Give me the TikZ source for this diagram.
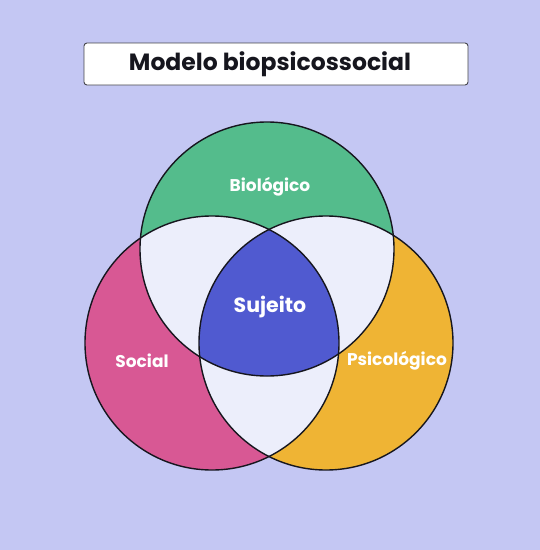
\documentclass[tikz,border=0pt]{standalone}
\usepackage{fontspec}
\setmainfont{Poppins}
\usetikzlibrary{positioning}
\definecolor{bgblue}{RGB}{196,199,243}
\definecolor{biogreen}{RGB}{84,188,140}
\definecolor{socpink}{RGB}{216,88,148}
\definecolor{psiyellow}{RGB}{239,180,52}
\definecolor{sujblue}{RGB}{80,90,208}
\definecolor{pale}{RGB}{236,238,251}
\definecolor{outline}{RGB}{22,22,30}

\begin{document}
\begin{tikzpicture}[x=1pt,y=-1pt,
    label/.style={text=white,font=\bfseries\fontsize{17}{20}\selectfont},
    ring/.style={draw=outline,line width=1.4pt}]
    % Background
    \fill[bgblue] (0,0) rectangle (540,550);
    \useasboundingbox (0,0) rectangle (540,550);
    % Title
    \node[draw=outline!80,fill=white,rounded corners=3pt,line width=0.9pt,
          minimum width=384pt,minimum height=42pt] (titlebox) at (276,64) {};
    \node[font=\bfseries\fontsize{23.5}{28}\selectfont,text=outline] (title) at (270,64) {Modelo biopsicossocial};
    % Circle centres
    \coordinate (bio) at (267,249);
    \coordinate (soc) at (212,343);
    \coordinate (psi) at (326,343);
    \def\rad{127pt}
    % Single areas
    \fill[biogreen] (bio) circle[radius=\rad];
    \fill[socpink] (soc) circle[radius=\rad];
    \fill[psiyellow] (psi) circle[radius=\rad];
    % Pairwise overlaps
    \begin{scope}
        \clip (bio) circle[radius=\rad];
        \fill[pale] (soc) circle[radius=\rad];
        \fill[pale] (psi) circle[radius=\rad];
    \end{scope}
    \begin{scope}
        \clip (soc) circle[radius=\rad];
        \fill[pale] (psi) circle[radius=\rad];
    \end{scope}
    % Centre
    \begin{scope}
        \clip (bio) circle[radius=\rad];
        \clip (soc) circle[radius=\rad];
        \fill[sujblue] (psi) circle[radius=\rad];
    \end{scope}
    % Outlines
    \draw[ring] (bio) circle[radius=\rad];
    \draw[ring] (soc) circle[radius=\rad];
    \draw[ring] (psi) circle[radius=\rad];
    % Labels
    \node[label] (biolabel) at (270,187) {Biológico};
    \node[label,font=\bfseries\fontsize{20.5}{24}\selectfont] (sujlabel) at (270,307) {Sujeito};
    \node[label] (soclabel) at (142,361) {Social};
    \node[label] (psilabel) at (397,361) {Psicológico};
\end{tikzpicture}
\end{document}
